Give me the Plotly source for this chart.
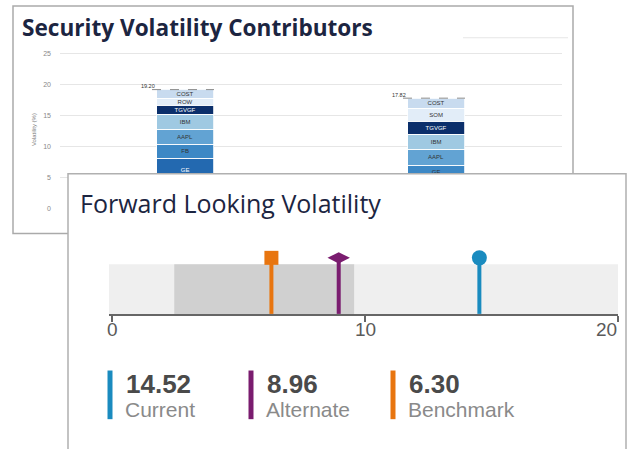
import plotly.graph_objects as go

W, H = 631, 449


def px(x):
    return x / W


def py(y):
    return 1 - y / H


# ---------------- Data: Security Volatility Contributors ----------------
portfolios = [0, 1]
portfolio_names = ["Current", "Alternate"]
totals = [19.20, 17.82]

bar1_names = ["Other", "GE", "FB", "AAPL", "IBM", "TGVGF", "ROW", "COST"]
bar1_values = [4.4, 3.6, 2.3, 2.5, 2.3, 1.45, 1.25, 1.4]
bar1_colors = ["#08519c", "#2369b0", "#3d88c5", "#62a3d3", "#9fc9e2", "#0b2f6b", "#e2edf8", "#c8dbef"]

bar2_names = ["Other", "GE", "AAPL", "IBM", "TGVGF", "SOM", "COST"]
bar2_values = [4.77, 2.25, 2.45, 2.4, 2.25, 2.0, 1.7]
bar2_colors = ["#2369b0", "#3d88c5", "#62a3d3", "#9fc9e2", "#0b2f6b", "#e2edf8", "#c8dbef"]

y_ticks = [0, 5, 10, 15, 20, 25]

# ---------------- Data: Forward Looking Volatility ----------------
vol_names = ["Current", "Alternate", "Benchmark"]
vol_values = [14.52, 8.96, 6.30]
vol_colors = ["#1a8bbf", "#7a1c6f", "#e8750f"]
vol_symbols = ["circle", "diamond-wide", "square"]
vol_sizes = [15, 16, 14]
range_low, range_high = 2.46, 9.57
scale_min, scale_max = 0, 20
scale_ticks = [0, 10, 20]

DARK = "#1c2541"
BAR_W = 0.227

fig = go.Figure()

# ---- stacked bars (subplot xy) ----
def add_stack(xpos, names, values, colors):
    for n, v, c in zip(names, values, colors):
        dark = c in ("#08519c", "#0b2f6b", "#2369b0")
        fig.add_trace(go.Bar(
            x=[xpos], y=[v], width=BAR_W, name=n,
            marker=dict(color=c, line=dict(color="white", width=0.8)),
            text=[n if n != "Other" else ""], textposition="inside", insidetextanchor="middle",
            textangle=0, constraintext="none",
            textfont=dict(size=6, color="white" if dark else "#333333",
                          family="Liberation Sans"),
            xaxis="x", yaxis="y", showlegend=False, hoverinfo="skip",
        ))


add_stack(portfolios[0], bar1_names, bar1_values, bar1_colors)
add_stack(portfolios[1], bar2_names, bar2_values, bar2_colors)

for xp, t in zip(portfolios, totals):
    fig.add_trace(go.Scatter(
        x=[xp - BAR_W / 2 - 0.02, xp + BAR_W / 2], y=[t, t], mode="lines",
        line=dict(color="#8a8a8a", width=1, dash="dash"),
        xaxis="x", yaxis="y", showlegend=False, hoverinfo="skip",
    ))
    fig.add_trace(go.Scatter(
        x=[xp - 0.15], y=[t], mode="text", text=[f"{t:.2f}"],
        textposition="top center",
        textfont=dict(size=5.5, color="#333333", family="Liberation Sans"),
        xaxis="x", yaxis="y", showlegend=False, hoverinfo="skip",
    ))

# ---- card 2 background (subplot x2y2, drawn above xy) ----
fig.add_trace(go.Scatter(
    x=[0, 1, 1, 0, 0], y=[0, 0, 1, 1, 0], mode="lines", fill="toself",
    fillcolor="white", line=dict(width=0, color="white"),
    xaxis="x2", yaxis="y2", showlegend=False, hoverinfo="skip",
))

# ---- bullet (subplot x3y3) ----
MARK_Y = 0.855
for n, v, c, s, sz in zip(vol_names, vol_values, vol_colors, vol_symbols, vol_sizes):
    fig.add_trace(go.Scatter(
        x=[v, v], y=[0, MARK_Y], mode="lines",
        line=dict(color=c, width=4),
        xaxis="x3", yaxis="y3", showlegend=False, hoverinfo="skip",
    ))
    fig.add_trace(go.Scatter(
        x=[v], y=[MARK_Y], mode="markers",
        marker=dict(symbol=s, size=sz, color=c, opacity=1, line=dict(width=0)),
        xaxis="x3", yaxis="y3", showlegend=False, hoverinfo="skip", cliponaxis=False,
    ))

shapes = [
    # card 1 border
    dict(type="rect", xref="paper", yref="paper", x0=px(13), x1=px(573), y0=py(235), y1=py(6),
         line=dict(color="#aaaaaa", width=1.5), fillcolor="rgba(0,0,0,0)", layer="below"),
    dict(type="line", xref="paper", yref="paper", x0=px(463), x1=px(568), y0=py(38), y1=py(38),
         line=dict(color="#e6e6e6", width=1), layer="below"),
    # bullet bands
    dict(type="rect", xref="x3", yref="y3", x0=-0.12, x1=scale_max, y0=0, y1=0.758,
         fillcolor="#efefef", line=dict(width=0), layer="below"),
    dict(type="rect", xref="x3", yref="y3", x0=range_low, x1=range_high, y0=0, y1=0.758,
         fillcolor="#d0d0d0", line=dict(width=0), layer="below"),
    # card 2 border
    dict(type="rect", xref="paper", yref="paper", x0=px(68), x1=px(626), y0=-0.01, y1=py(175),
         line=dict(color="#b0b0b0", width=1.5), fillcolor="rgba(0,0,0,0)", layer="above"),
]

annotations = [
    dict(text="Security Volatility Contributors", x=px(20), y=py(28), xref="paper", yref="paper",
         xanchor="left", yanchor="middle", showarrow=False,
         font=dict(family="Open Sans", size=22.6, color=DARK, weight="bold")),
    dict(text="Forward Looking Volatility", x=px(78), y=py(204), xref="paper", yref="paper",
         xanchor="left", yanchor="middle", showarrow=False,
         font=dict(family="Open Sans", size=25, color=DARK)),
]

# bullet scale tick labels (last one right-aligned to stay inside the card)
for i, t in enumerate(scale_ticks):
    last = i == len(scale_ticks) - 1
    annotations.append(dict(text=str(t), x=t, xref="x3", y=py(332), yref="paper",
                            xanchor="right" if last else "center", yanchor="middle",
                            xshift=1 if last else 0, showarrow=False,
                            font=dict(family="Liberation Sans", size=19, color="#5a5a5a")))

stat_x = [110, 251, 393]
for n, v, c, sx in zip(vol_names, vol_values, vol_colors, stat_x):
    shapes.append(dict(type="rect", xref="paper", yref="paper", x0=px(sx - 2.5), x1=px(sx + 2.5),
                       y0=py(422), y1=py(373), fillcolor=c, line=dict(width=0), layer="above"))
    annotations.append(dict(text=f"<b>{v:.2f}</b>", x=px(sx + 14), y=py(387), xref="paper", yref="paper",
                            xanchor="left", yanchor="middle", showarrow=False,
                            font=dict(family="Liberation Sans", size=26, color="#4a4a4a")))
    annotations.append(dict(text=n, x=px(sx + 13), y=py(412), xref="paper", yref="paper",
                            xanchor="left", yanchor="middle", showarrow=False,
                            font=dict(family="Liberation Sans", size=21, color="#8a8a8a")))

fig.update_layout(
    width=W, height=H, autosize=False,
    margin=dict(l=0, r=0, t=0, b=0),
    paper_bgcolor="white", plot_bgcolor="rgba(0,0,0,0)",
    barmode="stack", bargap=0,
    font=dict(family="Liberation Sans"),
    xaxis=dict(domain=[px(60), px(562)], range=[-0.5, 1.5], showticklabels=False,
               showgrid=False, zeroline=False, showline=False, ticks="", anchor="y"),
    yaxis=dict(domain=[py(210), py(50.9)], range=[0, 25.5], tickvals=y_ticks,
               showgrid=True, gridcolor="#e6e6e6", gridwidth=1, zeroline=False, showline=False,
               tickfont=dict(size=7, color="#888888"), ticklabelstandoff=8,
               title=dict(text="Volatility (%)", font=dict(size=6, color="#777777"), standoff=6),
               anchor="x"),
    xaxis2=dict(domain=[px(68), px(626)], range=[0, 1], visible=False, anchor="y2"),
    yaxis2=dict(domain=[0, py(175)], range=[0, 1], visible=False, anchor="x2"),
    xaxis3=dict(domain=[px(109), px(618)], range=[-0.12, scale_max], tickvals=scale_ticks,
                showticklabels=False,
                showgrid=False, zeroline=False, showline=True, linecolor="#666666", linewidth=2,
                ticks="outside", ticklen=6, tickwidth=1.5, tickcolor="#666666", anchor="y3"),
    yaxis3=dict(domain=[py(316), py(250)], range=[0, 1], visible=False, anchor="x3"),
    shapes=shapes, annotations=annotations,
)

post = (
    "(function(){"
    "document.documentElement.style.margin='0';"
    "document.documentElement.style.overflow='hidden';"
    "document.body.style.margin='0';"
    "document.body.style.padding='0';"
    "document.body.style.overflow='hidden';"
    "var g=document.querySelector('.plotly-graph-div');"
    "g.style.position='absolute';g.style.left='0px';g.style.top='0px';"
    "})();"
)

fig.write_html(
    "out.html",
    config={"displayModeBar": False, "responsive": False},
    post_script=post,
)
